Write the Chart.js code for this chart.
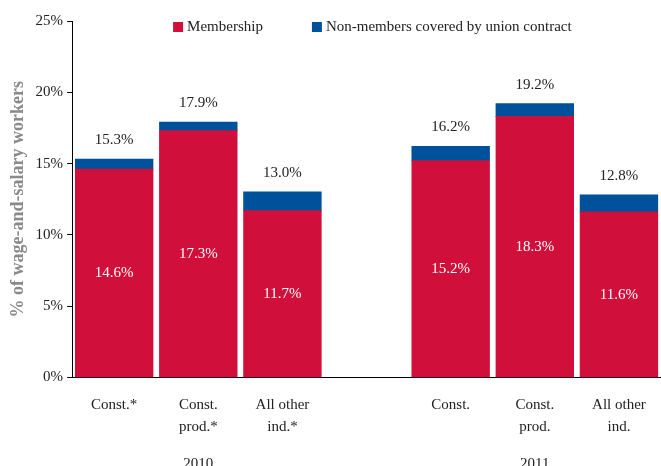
<!DOCTYPE html>
<html>
<head>
<meta charset="utf-8">
<script src="https://cdn.jsdelivr.net/npm/chart.js@4/dist/chart.umd.min.js"></script>
<style>
  html, body { margin: 0; padding: 0; background: #fff; }
  #wrap { width: 661px; height: 466px; }
</style>
</head>
<body>
<div id="wrap"><canvas id="unionChart"></canvas></div>
<script>
const categories = [["Const.*"], ["Const.", "prod.*"], ["All other", "ind.*"], [""], ["Const."], ["Const.", "prod."], ["All other", "ind."]];
const yearLabels = ["", "2010", "", "", "", "2011", ""];
const membership = [14.6, 17.3, 11.7, null, 15.2, 18.3, 11.6];
const totals = [15.3, 17.9, 13.0, null, 16.2, 19.2, 12.8];
const nonMembers = [0.7, 0.6, 1.3, null, 1.0, 0.9, 1.2];

const serif = "'Liberation Serif', 'Times New Roman', serif";
const RED = "#d0103a";
const BLUE = "#00519b";

// 柱內與柱頂的數值標籤
const barLabels = {
    id: "barLabels",
    afterDatasetsDraw(chart) {
        const ctx = chart.ctx;
        const y = chart.scales.y;
        const metaRed = chart.getDatasetMeta(0);
        ctx.save();
        ctx.font = "15px " + serif;
        ctx.textAlign = "center";
        ctx.textBaseline = "middle";
        metaRed.data.forEach((bar, i) => {
            if (membership[i] == null) return;
            ctx.fillStyle = "#fff";
            ctx.fillText(membership[i].toFixed(1) + "%", bar.x, y.getPixelForValue(membership[i] / 2));
            ctx.fillStyle = "#222";
            ctx.fillText(totals[i].toFixed(1) + "%", bar.x, y.getPixelForValue(totals[i]) - 19);
        });
        ctx.restore();
    }
};

// 圖例畫在繪圖區內的上方
const innerLegend = {
    id: "innerLegend",
    afterDraw(chart) {
        const ctx = chart.ctx;
        const area = chart.chartArea;
        ctx.save();
        ctx.font = "15px " + serif;
        ctx.textBaseline = "middle";
        let x = area.left + 101;
        const yMid = area.top + 6;
        chart.data.datasets.forEach(ds => {
            ctx.fillStyle = ds.backgroundColor;
            ctx.fillRect(x, yMid - 5, 10, 10);
            x += 14;
            ctx.fillStyle = "#222";
            ctx.fillText(ds.label, x, yMid);
            x += ctx.measureText(ds.label).width + 49;
        });
        ctx.restore();
    }
};

new Chart(document.getElementById("unionChart"), {
    type: "bar",
    data: {
        labels: categories,
        datasets: [
            {
                label: "Membership",
                data: membership,
                backgroundColor: RED,
                barPercentage: 0.92,
                categoryPercentage: 1.0,
                inflateAmount: 0.5
            },
            {
                label: "Non-members covered by union contract",
                data: nonMembers,
                backgroundColor: BLUE,
                barPercentage: 0.92,
                categoryPercentage: 1.0,
                inflateAmount: 0.5
            }
        ]
    },
    options: {
        responsive: true,
        maintainAspectRatio: false,
        animation: false,
        layout: { padding: { top: 21, right: 0, left: 8, bottom: -7 } },
        plugins: {
            legend: { display: false },
            tooltip: { enabled: false }
        },
        scales: {
            x: {
                stacked: true,
                grid: { display: false },
                border: { display: true, color: "#000", width: 1 },
                ticks: {
                    color: "#222",
                    font: { family: serif, size: 15, lineHeight: 1.45 },
                    padding: 9,
                    maxRotation: 0,
                    autoSkip: false
                }
            },
            x2: {
                type: "category",
                labels: yearLabels,
                position: "bottom",
                grid: { display: false },
                border: { display: false },
                ticks: {
                    color: "#222",
                    font: { family: serif, size: 15 },
                    padding: 0,
                    maxRotation: 0,
                    autoSkip: false
                }
            },
            y: {
                stacked: true,
                min: 0,
                max: 25,
                border: { display: true, color: "#000", width: 1 },
                grid: { drawOnChartArea: false, drawTicks: true, tickLength: 5, color: "#000" },
                ticks: {
                    stepSize: 5,
                    color: "#222",
                    font: { family: serif, size: 15 },
                    padding: 4,
                    callback: v => v + "%"
                },
                title: {
                    display: true,
                    text: "% of wage-and-salary workers",
                    color: "#8a8a8a",
                    font: { family: serif, size: 18, weight: "bold" },
                    padding: { top: 0, bottom: 2 }
                }
            }
        }
    },
    plugins: [barLabels, innerLegend]
});
</script>
</body>
</html>
